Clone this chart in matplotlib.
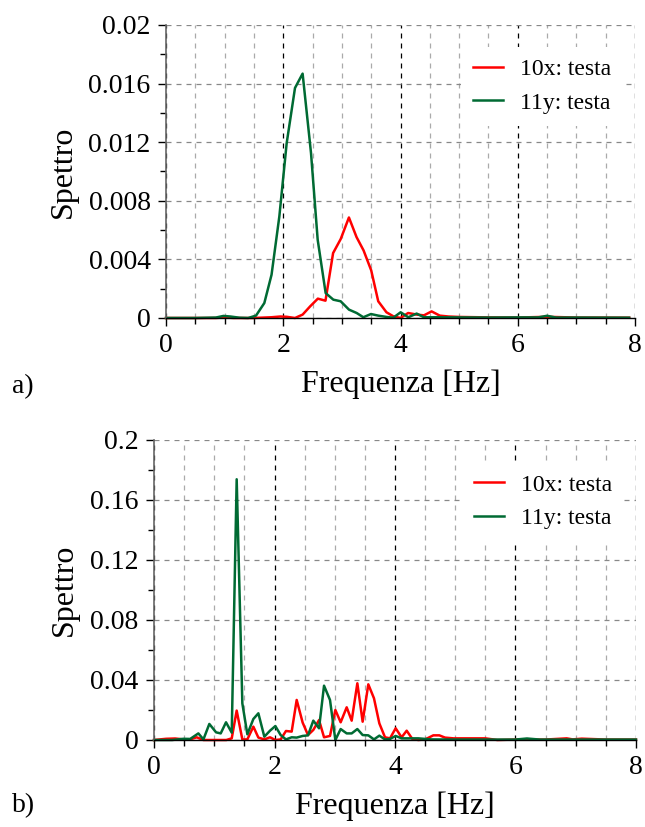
import numpy as np
import matplotlib.pyplot as plt
from matplotlib.ticker import MultipleLocator, FuncFormatter

plt.rcParams['font.family'] = ['Liberation Serif', 'DejaVu Serif']

# a) spettro (valori letti dal grafico)
fa_10x = [0.0, 0.5, 0.85, 1.0, 1.15, 1.5, 1.8, 1.95, 2.06, 2.2, 2.33, 2.46, 2.59, 2.72,
          2.85, 2.98, 3.12, 3.25, 3.37, 3.5, 3.62, 3.76, 3.88, 4.0, 4.13, 4.28, 4.4,
          4.53, 4.67, 4.82, 5.0, 5.5, 6.0, 6.5, 7.0, 7.9]
sa_10x = [0.0, 0.0, 0.0, 0.00004, 0.0, 0.0, 0.00005, 0.0001, 0.00008, 0.0, 0.00023, 0.0008,
          0.00132, 0.00118, 0.00443, 0.00539, 0.00686, 0.00552, 0.00461, 0.00325, 0.00114,
          0.00039, 0.00011, 0.0, 0.00034, 0.00023, 0.00018, 0.00045, 0.00016, 0.0001,
          0.00007, 0.00004, 0.00003, 0.00008, 0.00003, 0.00002]
fa_11y = [0.0, 0.5, 0.85, 0.98, 1.1, 1.25, 1.4, 1.535, 1.677, 1.8, 1.933, 2.058, 2.2, 2.33,
          2.473, 2.587, 2.723, 2.854, 2.979, 3.121, 3.252, 3.366, 3.496, 3.621, 3.763,
          3.877, 4.002, 4.133, 4.275, 4.4, 4.6, 5.0, 5.5, 6.0, 6.35, 6.5, 6.65, 7.0, 7.9]
sa_11y = [0.0, 0.0, 0.00003, 0.00014, 0.0001, 0.00002, 0.0, 0.00016, 0.00102, 0.00295,
          0.00693, 0.01193, 0.0157, 0.01668, 0.01127, 0.00534, 0.0017, 0.00125, 0.00114,
          0.00057, 0.00034, 0.00005, 0.00027, 0.00016, 0.00007, 0.00002, 0.00039, 0.00005,
          0.0003, 0.00005, 0.00005, 0.00004, 0.00003, 0.00004, 0.00004, 0.00015, 0.00003,
          0.00003, 0.00002]

# b) spettro
fb_10x = [0.0, 0.2, 0.35, 0.49, 0.6, 0.708, 0.82, 1.0, 1.2, 1.29, 1.372, 1.466, 1.549,
          1.649, 1.732, 1.831, 1.925, 2.014, 2.102, 2.19, 2.285, 2.368, 2.467, 2.556,
          2.644, 2.739, 2.822, 2.921, 3.01, 3.098, 3.198, 3.281, 3.375, 3.463, 3.557,
          3.651, 3.74, 3.834, 3.917, 4.011, 4.11, 4.194, 4.288, 4.387, 4.5, 4.636,
          4.736, 4.83, 4.97, 5.3, 5.5, 5.7, 6.0, 6.5, 6.85, 6.95, 7.1, 7.5, 8.0]
sb_10x = [0.0, 0.0008, 0.001, 0.0004, 0.0004, 0.0018, 0.0, 0.0, 0.0, 0.0011, 0.0196, 0.0004,
          0.0004, 0.0089, 0.0016, 0.0004, 0.0018, 0.0, 0.0004, 0.006, 0.0056, 0.0267,
          0.0116, 0.0033, 0.0067, 0.0133, 0.0018, 0.0027, 0.02, 0.0118, 0.0218, 0.0129,
          0.0378, 0.0122, 0.0371, 0.0278, 0.0111, 0.0018, 0.0011, 0.0078, 0.0018, 0.0062,
          0.0007, 0.0, 0.0004, 0.0031, 0.0031, 0.0016, 0.0011, 0.0011, 0.0011, 0.0, 0.0003,
          0.0003, 0.0011, 0.0004, 0.0009, 0.0003, 0.0003]
fb_11y = [0.0, 0.3, 0.49, 0.6, 0.736, 0.82, 0.918, 1.03, 1.107, 1.195, 1.29, 1.372, 1.466,
          1.549, 1.649, 1.732, 1.831, 1.925, 2.014, 2.102, 2.19, 2.285, 2.368, 2.467, 2.556,
          2.644, 2.739, 2.822, 2.921, 3.01, 3.098, 3.198, 3.281, 3.375, 3.463, 3.557, 3.651,
          3.74, 3.834, 3.917, 4.011, 4.11, 4.25, 4.387, 4.6, 5.0, 5.5, 6.0, 6.19, 6.4, 7.0,
          8.0]
sb_11y = [0.0, 0.0, 0.0008, 0.0007, 0.0044, 0.0004, 0.0107, 0.0051, 0.0044, 0.0118, 0.0049,
          0.1738, 0.0244, 0.0038, 0.014, 0.0178, 0.0022, 0.0062, 0.0093, 0.0033, 0.0004,
          0.0018, 0.0016, 0.0027, 0.0031, 0.0129, 0.0078, 0.0362, 0.0267, 0.0, 0.0073,
          0.0044, 0.0044, 0.0073, 0.0033, 0.0031, 0.0004, 0.0029, 0.0004, 0.0007, 0.0027,
          0.0011, 0.0011, 0.0011, 0.0004, 0.0003, 0.0003, 0.0003, 0.001, 0.0003, 0.0003,
          0.0003]

rosso = '#ff0000'
verde = '#006a33'


def fmt(v, pos):
    return '0' if abs(v) < 1e-12 else ('%g' % v)


def prepara(ax, ymax, ystep):
    ax.set_xlim(0, 8)
    ax.set_ylim(0, ymax)
    ax.xaxis.set_major_locator(MultipleLocator(2))
    ax.xaxis.set_minor_locator(MultipleLocator(0.5))
    ax.yaxis.set_major_locator(MultipleLocator(ystep))
    ax.yaxis.set_minor_locator(MultipleLocator(ystep / 2))
    ax.yaxis.set_major_formatter(FuncFormatter(fmt))
    ax.grid(True, which='major', axis='x', color='black', ls=(0, (4, 4)), lw=0.9)
    ax.grid(True, which='minor', axis='x', color='#aaaaaa', ls=(0, (4, 4)), lw=0.9)
    ax.grid(True, which='major', axis='y', color='#888888', ls=(0, (4, 4)), lw=0.9)
    ax.set_axisbelow(True)
    for s in ['top', 'right']:
        ax.spines[s].set_visible(False)
    ax.spines['left'].set_color('#666666')
    ax.spines['left'].set_linewidth(1.2)
    ax.spines['bottom'].set_color('black')
    ax.spines['bottom'].set_linewidth(1.0)
    ax.tick_params(which='major', direction='out', length=6, width=1.0, labelsize=20,
                   color='black', pad=5)
    ax.tick_params(which='minor', direction='out', length=4, width=1.0, color='black')
    ax.set_xlabel('Frequenza [Hz]', fontsize=23, labelpad=8)
    ax.set_ylabel('Spettro', fontsize=23, labelpad=8)


fig = plt.figure(figsize=(6.45, 8.27), dpi=100)
ax1 = fig.add_axes([0.2574, 0.6155, 0.7271, 0.3543])
ax2 = fig.add_axes([0.2388, 0.1052, 0.7472, 0.3628])

for ax, dati, ymax, ystep in [
        (ax1, (fa_10x, sa_10x, fa_11y, sa_11y), 0.02, 0.004),
        (ax2, (fb_10x, sb_10x, fb_11y, sb_11y), 0.2, 0.04)]:
    prepara(ax, ymax, ystep)
    ax.plot(dati[0], dati[1], color=rosso, lw=1.8, label='10x: testa', clip_on=False)
    ax.plot(dati[2], dati[3], color=verde, lw=1.8, label='11y: testa', clip_on=False)
    leg = ax.legend(loc='upper right', bbox_to_anchor=(1.0, 0.965), fontsize=17,
                    frameon=True, fancybox=False, handlelength=1.25, handletextpad=0.75,
                    borderpad=0.5, labelspacing=0.5)
    leg.get_frame().set_edgecolor('none')
    leg.get_frame().set_facecolor('white')
    leg.get_frame().set_alpha(1)

fig.text(0.018, 0.532, 'a)', fontsize=20, va='center')
fig.text(0.018, 0.026, 'b)', fontsize=20, va='center')

fig.savefig('out.png', dpi=100)
